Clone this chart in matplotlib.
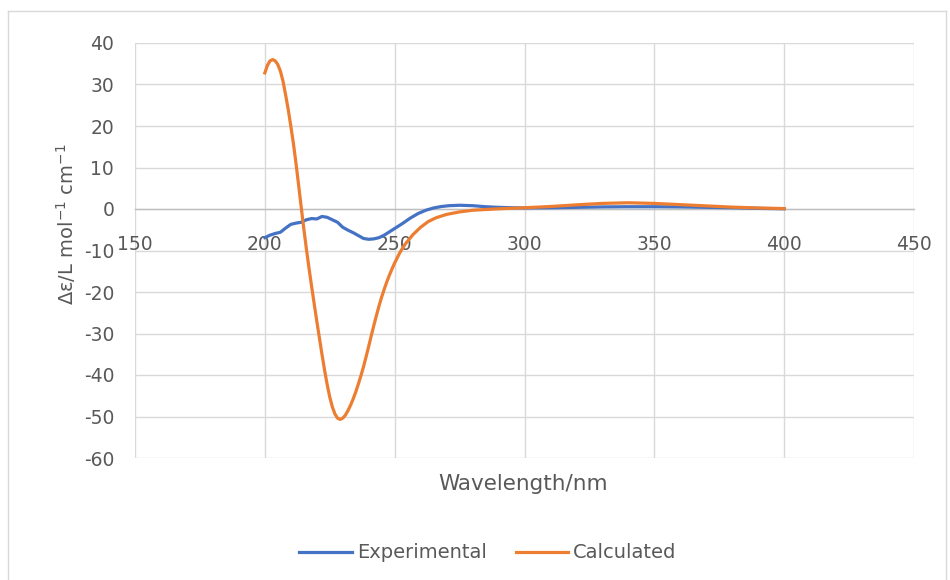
import matplotlib
matplotlib.use("Agg")
import matplotlib.pyplot as plt
from matplotlib.lines import Line2D

plt.rcParams['font.family'] = ['DejaVu Sans']
plt.rcParams['mathtext.default'] = 'regular'
plt.rcParams['axes.unicode_minus'] = False

# experimental CD spectrum
exp_wl = [200, 202, 204, 206, 208, 210, 212, 214, 216, 218, 220, 222, 224, 226, 228,
          230, 232, 234, 236, 238, 240, 242, 244, 246, 248, 250, 253, 256, 259, 262,
          265, 268, 271, 275, 280, 285, 290, 295, 300, 310, 320, 330, 340, 350, 360,
          370, 380, 390, 400]
exp_val = [-6.9, -6.3, -5.9, -5.6, -4.6, -3.7, -3.4, -3.2, -2.6, -2.3, -2.4, -1.8, -2.0, -2.6, -3.2,
           -4.4, -5.1, -5.7, -6.4, -7.1, -7.3, -7.2, -6.9, -6.3, -5.5, -4.7, -3.5, -2.2, -1.1, -0.3,
           0.25, 0.6, 0.8, 0.9, 0.8, 0.55, 0.4, 0.3, 0.25, 0.3, 0.4, 0.5, 0.55, 0.55, 0.5,
           0.4, 0.3, 0.15, 0.05]

# calculated spectrum
calc_wl = [200, 201, 202, 203, 204, 205, 206, 207, 208, 209, 210, 211, 212, 213, 214,
           215, 216, 217, 218, 219, 220, 221, 222, 223, 224, 225, 226, 227, 228, 229,
           230, 231, 232, 233, 234, 235, 236, 237, 238, 239, 240, 241, 242, 243, 244,
           245, 246, 247, 248, 249, 250, 252, 254, 257, 260, 263, 266, 270, 275, 280,
           290, 300, 310, 320, 330, 340, 350, 360, 370, 380, 390, 400]
calc_val = [32.8, 34.6, 35.7, 36.0, 35.7, 34.8, 33.2, 30.8, 27.5, 24.0, 20.0, 15.8, 11.0, 5.8, 0.5,
            -4.7, -9.6, -14.2, -18.6, -22.8, -27.0, -31.0, -35.0, -38.8, -42.3, -45.3, -47.7, -49.4, -50.4, -50.7,
            -50.4, -49.7, -48.6, -47.3, -45.8, -44.1, -42.2, -40.2, -38.0, -35.6, -33.1, -30.5, -28.0, -25.6, -23.3,
            -21.2, -19.3, -17.5, -15.9, -14.4, -13.0, -10.5, -8.5, -6.2, -4.4, -3.0, -2.1, -1.3, -0.7, -0.3,
            0.05, 0.3, 0.6, 1.0, 1.35, 1.5, 1.35, 1.05, 0.75, 0.45, 0.25, 0.1]

xticks = [150, 200, 250, 300, 350, 400, 450]
yticks = [-60, -50, -40, -30, -20, -10, 0, 10, 20, 30, 40]

W, H = 950, 580
fig = plt.figure(figsize=(9.5, 5.8), dpi=100)
ax = fig.add_axes([135 / W, 1 - 458 / H, (914 - 135) / W, (458 - 43) / H])

grid = '#D9D9D9'
txt = '#595959'

ax.plot(exp_wl, exp_val, color='#4472C4', lw=2.3, label='Experimental', zorder=3)
ax.plot(calc_wl, calc_val, color='#ED7D31', lw=2.3, label='Calculated', zorder=4)

ax.set_xlim(150, 450)
ax.set_ylim(-60, 40)
ax.set_xticks(xticks)
ax.set_yticks(yticks)
ax.grid(True, color=grid, lw=1.0)
ax.set_axisbelow(True)
for s in ['top', 'right', 'left']:
    ax.spines[s].set_visible(False)
ax.spines['bottom'].set_position(('data', 0))
ax.spines['bottom'].set_color('#BFBFBF')
ax.spines['bottom'].set_linewidth(1.0)
ax.spines['bottom'].set_zorder(2)
ax.tick_params(axis='both', length=0, labelsize=13.5, labelcolor=txt)
ax.tick_params(axis='x', pad=19)
ax.tick_params(axis='y', pad=15)

fig.text(66 / W, 1 - 224 / H, 'Δε/L mol$^{-1}$ cm$^{-1}$', rotation=90, ha='center', va='center',
         fontsize=14, color=txt)
fig.text(523 / W, 1 - 484 / H, 'Wavelength/nm', ha='center', va='center', fontsize=15.5, color=txt)

leg = fig.legend(loc='center', bbox_to_anchor=(488 / W, 1 - 553 / H), ncol=2, frameon=False,
                 fontsize=14, handlelength=2.7, handletextpad=0.25, columnspacing=1.5)
for t in leg.get_texts():
    t.set_color(txt)

# chart frame
fx = lambda p: p / W
fy = lambda p: 1 - p / H
fig.add_artist(Line2D([fx(8), fx(8)], [fy(11), 0], color=grid, lw=1.0))
fig.add_artist(Line2D([fx(8), fx(946)], [fy(11), fy(11)], color=grid, lw=1.0))
fig.add_artist(Line2D([fx(946), fx(946)], [fy(11), 0], color=grid, lw=1.0))

fig.savefig('out.png', dpi=100)
